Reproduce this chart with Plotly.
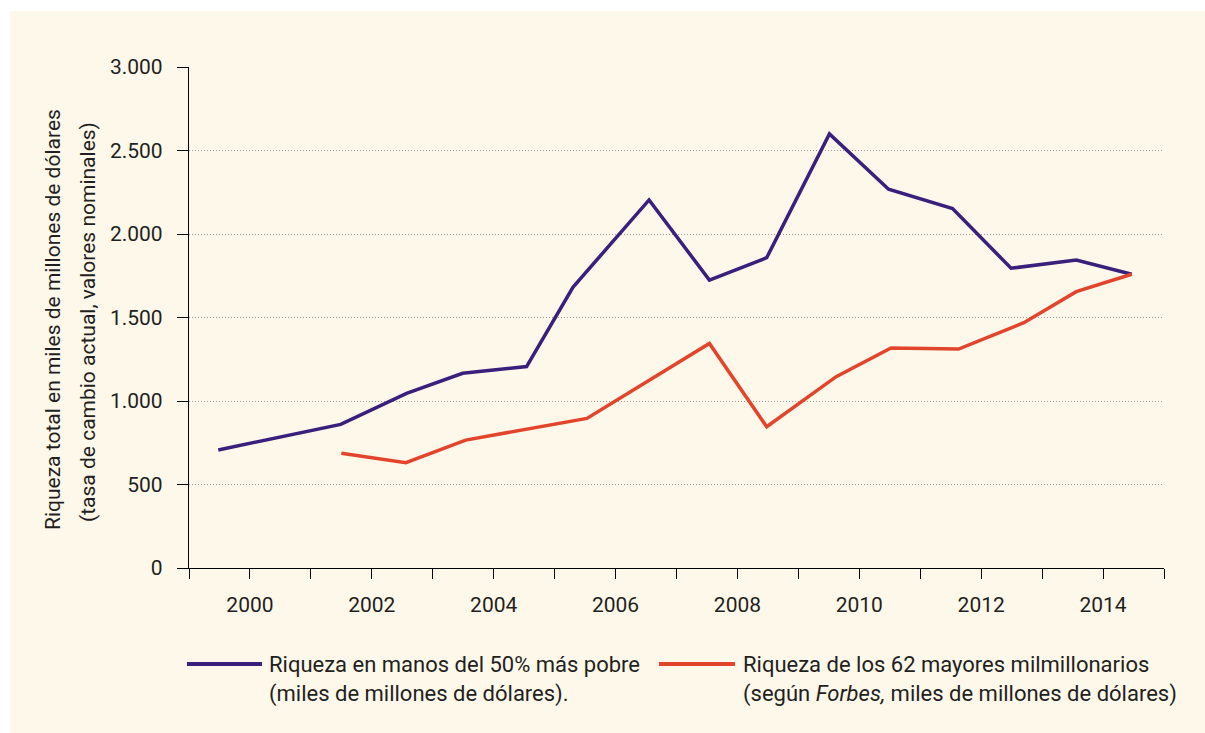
import plotly.graph_objects as go

# ---- data ----
poor_x = [1999.48, 2001.49, 2002.57, 2003.49, 2004.54, 2005.30, 2006.55, 2007.54,
          2008.48, 2009.51, 2010.48, 2011.53, 2012.49, 2013.56, 2014.47]
poor_y = [707, 860, 1046, 1166, 1206, 1681, 2204, 1724, 1858, 2599, 2268, 2152,
          1795, 1844, 1759]
rich_x = [2001.50, 2002.56, 2003.54, 2005.53, 2007.54, 2008.48, 2009.62, 2010.52,
          2011.63, 2012.70, 2013.56, 2014.47]
rich_y = [687, 631, 766, 896, 1345, 846, 1146, 1317, 1311, 1469, 1655, 1759]

year_ticks = list(range(1999, 2016))
year_labels = [str(y) if y % 2 == 0 else "" for y in year_ticks]
y_ticks = [0, 500, 1000, 1500, 2000, 2500, 3000]

poor_name = "Riqueza en manos del 50% más pobre<br>(miles de millones de dólares)."
rich_name = "Riqueza de los 62 mayores milmillonarios<br>(según <i>Forbes,</i> miles de millones de dólares)"
ytitle_1 = "Riqueza total en miles de millones de dólares"
ytitle_2 = "(tasa de cambio actual, valores nominales)"

PURPLE = "#3B1F7C"
RED = "#E2452C"
CREAM = "#FEF8EB"
TEXT = "#231F20"
FONT = "Roboto"

W, H = 1205, 733
L, R, T, B = 189, 41, 67, 165
PW, PH = W - L - R, H - T - B


def px(x):
    """screen x -> paper x"""
    return (x - L) / PW


def py(y):
    """screen y -> paper y"""
    return (H - B - y) / PH


fig = go.Figure()
fig.add_trace(go.Scatter(x=poor_x, y=poor_y, mode="lines", name="poor",
                         line=dict(color=PURPLE, width=3.5), showlegend=False))
fig.add_trace(go.Scatter(x=rich_x, y=rich_y, mode="lines", name="rich",
                         line=dict(color=RED, width=3.5), showlegend=False))

shapes = [
    # white outer margin strips
    dict(type="rect", xref="paper", yref="paper", x0=px(0), x1=px(10), y0=py(H), y1=py(0),
         fillcolor="white", line=dict(width=0), layer="below"),
    dict(type="rect", xref="paper", yref="paper", x0=px(0), x1=px(W), y0=py(11), y1=py(0),
         fillcolor="white", line=dict(width=0), layer="below"),
    # legend samples
    dict(type="line", xref="paper", yref="paper", x0=px(187), x1=px(262), y0=py(664), y1=py(664),
         line=dict(color=PURPLE, width=4)),
    dict(type="line", xref="paper", yref="paper", x0=px(659), x1=px(735), y0=py(664), y1=py(664),
         line=dict(color=RED, width=4)),
]

annotations = [
    dict(text=poor_name, xref="paper", yref="paper", x=px(267), y=py(679.5),
         xanchor="left", yanchor="middle", align="left", showarrow=False,
         font=dict(family=FONT, size=22, color=TEXT)),
    dict(text=rich_name, xref="paper", yref="paper", x=px(741), y=py(679.5),
         xanchor="left", yanchor="middle", align="left", showarrow=False,
         font=dict(family=FONT, size=22, color=TEXT)),
    dict(text=ytitle_1, xref="paper", yref="paper", x=px(53), y=py(320),
         xanchor="center", yanchor="middle", textangle=-90, showarrow=False,
         font=dict(family=FONT, size=21, color=TEXT)),
    dict(text=ytitle_2, xref="paper", yref="paper", x=px(88), y=py(322),
         xanchor="center", yanchor="middle", textangle=-90, showarrow=False,
         font=dict(family=FONT, size=21, color=TEXT)),
]

fig.update_layout(
    width=W, height=H,
    margin=dict(l=L, r=R, t=T, b=B, pad=0),
    paper_bgcolor=CREAM, plot_bgcolor=CREAM,
    separators=",.",
    font=dict(family=FONT, size=21, color=TEXT),
    shapes=shapes, annotations=annotations,
    showlegend=False,
    xaxis=dict(range=[1999, 2015], tickmode="array", tickvals=year_ticks, ticktext=year_labels,
               showgrid=False, zeroline=False, showline=True, linecolor="black", linewidth=1.3,
               ticks="outside", ticklen=10, tickwidth=1.3, tickcolor="black",
               ticklabelstandoff=8, tickfont=dict(family=FONT, size=21, color=TEXT)),
    yaxis=dict(range=[0, 3000], tickmode="array", tickvals=y_ticks, separatethousands=True,
               showgrid=True, gridcolor="#9a9a9a", gridwidth=1, griddash="1px,2px",
               zeroline=False, showline=True, linecolor="black", linewidth=1.3,
               ticks="outside", ticklen=11, tickwidth=1.3, tickcolor="black",
               ticklabelstandoff=10, tickfont=dict(family=FONT, size=21, color=TEXT)),
)

fig.write_html(
    "out.html",
    config={"displayModeBar": False},
    post_script="document.body.style.margin='0';document.body.style.overflow='hidden';",
)
